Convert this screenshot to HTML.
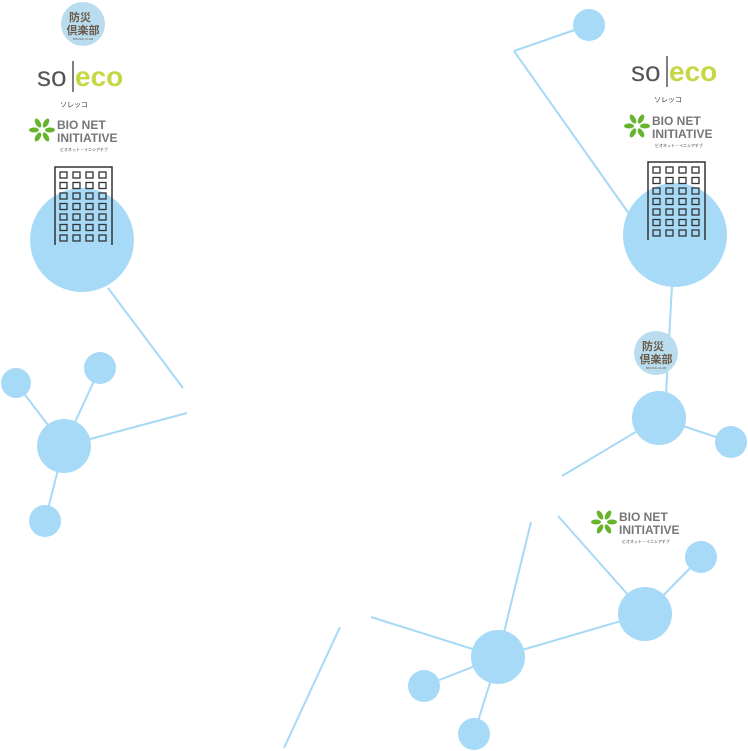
<!DOCTYPE html>
<html><head><meta charset="utf-8">
<style>
html,body{margin:0;padding:0;background:#fff;}
svg{display:block;}
text{font-family:"Liberation Sans","Noto Sans CJK JP",sans-serif;}
</style></head>
<body>
<svg id="s" width="748" height="751" viewBox="0 0 748 751">
<g stroke="#a6d9f5" stroke-width="2" fill="none">
<line x1="108" y1="288" x2="183" y2="388"/>
<line x1="64" y1="446" x2="187" y2="413"/>
<line x1="64" y1="446" x2="16" y2="383"/>
<line x1="64" y1="446" x2="100" y2="368"/>
<line x1="64" y1="446" x2="45" y2="521"/>
<line x1="589" y1="25" x2="514" y2="51"/>
<line x1="514" y1="51" x2="632" y2="218"/>
<line x1="672" y1="285" x2="664" y2="432"/>
<line x1="659" y1="418" x2="731" y2="442"/>
<line x1="659" y1="418" x2="562" y2="476"/>
<line x1="645" y1="614" x2="701" y2="557"/>
<line x1="645" y1="614" x2="558" y2="516"/>
<line x1="645" y1="614" x2="498" y2="657"/>
<line x1="498" y1="657" x2="531" y2="522"/>
<line x1="498" y1="657" x2="371" y2="617"/>
<line x1="498" y1="657" x2="424" y2="686"/>
<line x1="498" y1="657" x2="474" y2="734"/>
<line x1="340" y1="627" x2="284" y2="748"/>
</g>
<g fill="#a6daf7">
<circle cx="82" cy="240" r="52"/>
<circle cx="64" cy="446" r="27"/>
<circle cx="16" cy="383" r="15"/>
<circle cx="100" cy="368" r="16"/>
<circle cx="45" cy="521" r="16"/>
<circle cx="589" cy="25" r="16"/>
<circle cx="675" cy="235" r="52"/>
<circle cx="659" cy="418" r="27"/>
<circle cx="731" cy="442" r="16"/>
<circle cx="645" cy="614" r="27"/>
<circle cx="701" cy="557" r="16"/>
<circle cx="498" cy="657" r="27"/>
<circle cx="424" cy="686" r="16"/>
<circle cx="474" cy="734" r="16"/>
</g>
<g id="logos"></g>
</svg>
<script>
const NS='http://www.w3.org/2000/svg';
const L=document.getElementById('logos');
function mk(tag,attrs,parent,txt){const e=document.createElementNS(NS,tag);for(const k in attrs)e.setAttribute(k,attrs[k]);if(txt)e.textContent=txt;(parent||L).appendChild(e);return e;}
function bosai(cx,cy){
 const g=mk('g',{});
 
 
 mk('circle',{cx:cx,cy:cy,r:22,fill:'#b9dcef'},g);
 mk('text',{x:cx-3,y:cy-3,'font-size':11,'font-weight':'bold',fill:'#6b5a4a','text-anchor':'middle'},g,'防災');
 mk('text',{x:cx,y:cy+10,'font-size':11,'font-weight':'bold',fill:'#6b5a4a','text-anchor':'middle'},g,'倶楽部');
 mk('text',{x:cx,y:cy+16,'font-size':3,fill:'#6b5a4a','text-anchor':'middle'},g,'BOUSAI CLUB');
}
function soleco(x,y){
 const g=mk('g',{});
 
 
 mk('text',{x:x,y:y,'font-size':28,fill:'#555'},g,'so');
 mk('line',{x1:x+36,y1:y-25,x2:x+36,y2:y+6,stroke:'#555','stroke-width':1.5},g);
 mk('text',{x:x+38,y:y,'font-size':28,'font-weight':'bold',fill:'#c5d844'},g,'eco');
 mk('text',{x:x+37,y:y+21,'font-size':7,fill:'#333','text-anchor':'middle'},g,'ソレッコ');
}
function bionet(x,y){
 const g=mk('g',{});
 
 
 for(let i=0;i<6;i++){const a=i*Math.PI/3;mk('ellipse',{cx:x+12+Math.cos(a)*8,cy:y+12+Math.sin(a)*8,rx:5,ry:2.5,fill:'#66b32e',transform:`rotate(${i*60} ${x+12+Math.cos(a)*8} ${y+12+Math.sin(a)*8})`},g);}
 mk('text',{x:x+27,y:y+11,'font-size':12,'font-weight':'bold',fill:'#777'},g,'BIO NET');
 mk('text',{x:x+27,y:y+24,'font-size':12,'font-weight':'bold',fill:'#777'},g,'INITIATIVE');
 mk('text',{x:x+30,y:y+33,'font-size':4,fill:'#333'},g,'ビオネット・イニシアチブ');
}
function building(x,y){
 const g=mk('g',{});
 
 
 mk('path',{d:`M${x} ${y+78}V${y}H${x+57}V${y+78}`,fill:'none',stroke:'#333','stroke-width':1.5},g);
 for(let r=0;r<7;r++)for(let c=0;c<4;c++)mk('rect',{x:x+5+c*13,y:y+5+r*10.5,width:7,height:6,fill:'none',stroke:'#333','stroke-width':1.3},g);
}
bosai(83,24); soleco(37,86); bionet(30,118); building(55,167);
soleco(631,81); bionet(625,114); building(648,162);
bosai(656,353);
bionet(592,510);
</script>
</body></html>
